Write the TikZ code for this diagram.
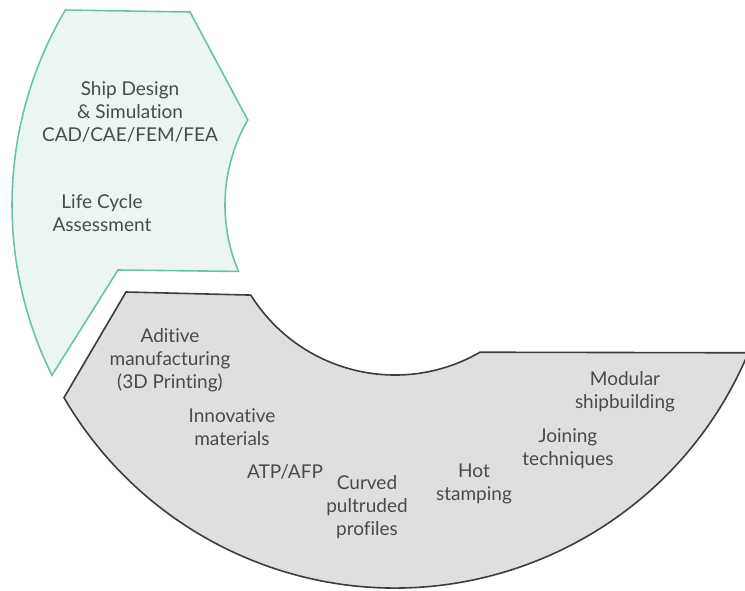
\documentclass[tikz,border=0pt]{standalone}
\usepackage{fontspec}
\setmainfont{Lato}[Ligatures=NoCommon]
\definecolor{tealline}{HTML}{6CC1AD}
\definecolor{tealfill}{HTML}{EBF5F2}
\definecolor{grayfill}{HTML}{E0DEE1}
\definecolor{grayline}{HTML}{3C3C3C}
\definecolor{txtgray}{HTML}{4A4A4A}
\begin{document}
\begin{tikzpicture}[x=1pt, y=1pt,
		topic/.style={align=center, text=txtgray, inner sep=0pt,
			font=\fontsize{19}{23}\selectfont}]
		\useasboundingbox (0, 0) rectangle (745, 590);
		\begin{scope}[shift={(395, 385)}]
			\draw[tealline, line width=1.6pt, fill=tealfill] (149.4:383) -- (-205, 193) -- (150:170)
				arc[start angle=150, end angle=203, radius=170] -- (-277, -65) -- (206.4:383)
				arc[start angle=206.4, end angle=149.4, radius=383] -- cycle;
			\draw[grayline, line width=1.6pt, fill=grayfill] (-269, -87) -- (212:170)
				arc[start angle=212, end angle=300, radius=170] -- (337.3:383)
				arc[start angle=337.3, end angle=210.2, radius=383] -- cycle;
		\end{scope}
		\node[topic] (design) at (130, 478) {Ship Design\\ \& Simulation\\ CAD/CAE/FEM/FEA};
		\node[topic] (lca) at (102, 377) {Life Cycle\\ Assessment};
		\node[topic] (additive) at (170, 230) {Aditive\\ manufacturing\\ (3D Printing)};
		\node[topic] (innov) at (232, 163) {Innovative\\ materials};
		\node[topic] (atp) at (285, 118) {ATP/AFP};
		\node[topic] (curved) at (367, 83) {Curved\\ pultruded\\ profiles};
		\node[topic] (hot) at (474, 106) {Hot\\ stamping};
		\node[topic] (joining) at (568, 141) {Joining\\ techniques};
		\node[topic] (modular) at (625, 198) {Modular\\ shipbuilding};
	\end{tikzpicture}
\end{document}
